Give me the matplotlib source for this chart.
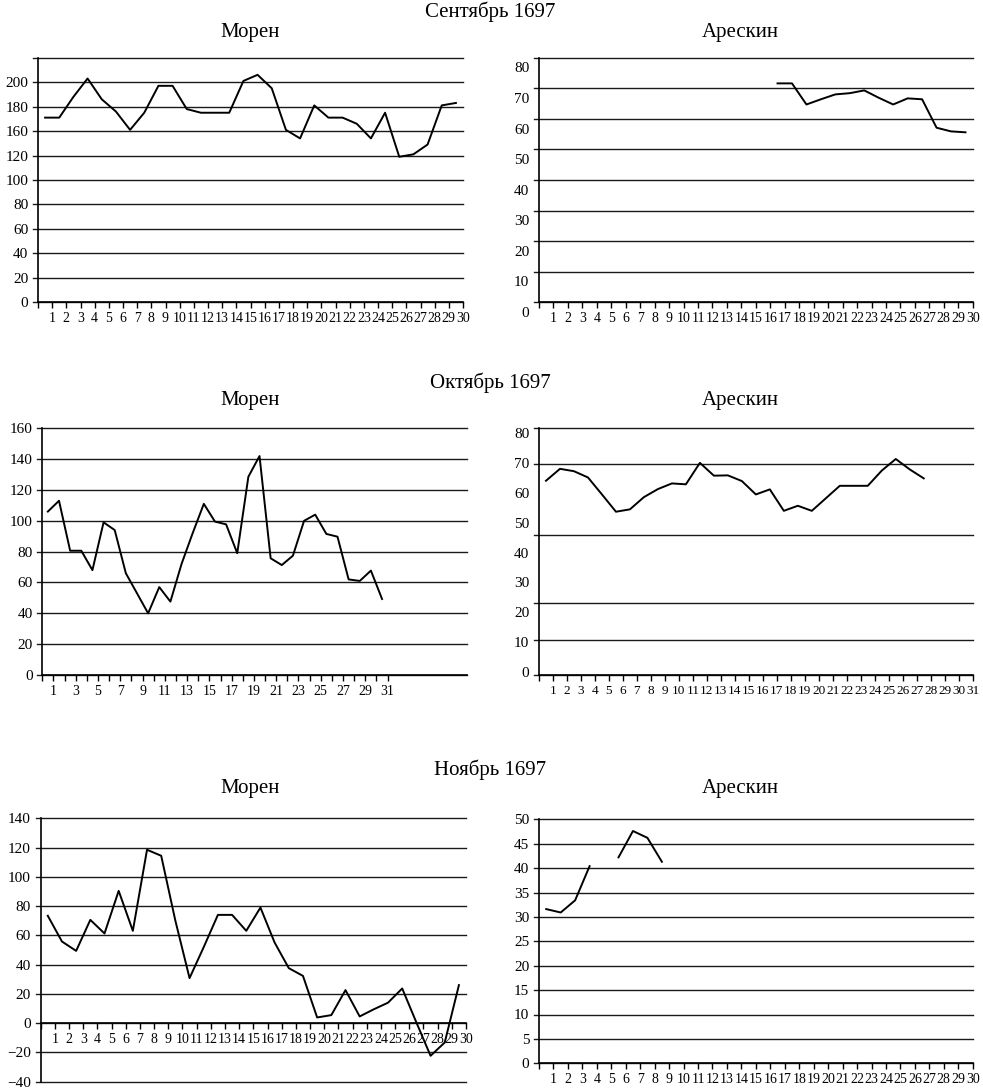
import numpy as np
import matplotlib
matplotlib.use('Agg')
import matplotlib.pyplot as plt
from matplotlib.transforms import ScaledTranslation

plt.rcParams['font.family'] = ['Liberation Serif', 'DejaVu Serif']
plt.rcParams['axes.unicode_minus'] = True

nan = np.nan

months = ['Сентябрь 1697', 'Октябрь 1697', 'Ноябрь 1697']
names = ['Морен', 'Арескин']

# September (30 days)
sep_moren = [151, 151, 168, 183, 166, 156, 141, 155, 177, 177,
             158, 155, 155, 155, 181, 186, 175, 141, 134, 161,
             151, 151, 146, 134, 155, 119, 121, 129, 161, 163]
sep_areskin = [nan] * 16 + [71.6, 71.6, 64.7, 66.4, 68.0, 68.4, 69.3,
                            66.9, 64.7, 66.7, 66.4, 57.1, 55.9, 55.6]
sep_moren_ylabels = ['0', '20', '40', '60', '80', '100', '120', '160', '180', '200', '']
sep_moren_grid = [0, 20, 40, 60, 80, 100, 120, 140, 160, 180, 200]
sep_areskin_ylabels = ['0', '10', '20', '30', '40', '50', '60', '70', '80']
sep_areskin_grid = [0, 10, 20, 30, 40, 50, 60, 70, 80]

# October (31 days)
oct_moren = [106, 113, 80.6, 80.6, 68, 99, 94, 66, 53, 40,
             57, 47.6, 72, 92, 111, 99.5, 97.7, 79, 128.6, 142,
             75.7, 71.3, 77.4, 100, 104, 91.5, 89.7, 62, 61, 67.7, 49.3]
oct_areskin = [64.1, 68.1, 67.3, 65.2, 59.5, 53.7, 54.5, 58.6, 61.3, 63.2,
               62.9, 70.1, 65.8, 65.9, 64.0, 59.5, 61.2, 54.0, 55.7, 54.0,
               58.2, 62.4, 62.4, 62.4, 67.5, 71.4, 67.9, 64.9, nan, nan, nan]
oct_moren_ylabels = ['0', '20', '40', '60', '80', '100', '120', '140', '160']
oct_moren_grid = [0, 20, 40, 60, 80, 100, 120, 140, 160]
oct_areskin_ylabels = ['0', '10', '20', '30', '40', '50', '60', '70', '80']
oct_areskin_grid = [-1.1, 10.6, 22.9, 45.9, 69.6, 81.7]

# November (30 days)
nov_moren = [73.4, 55.8, 49.4, 70.6, 61.3, 90.4, 63.1, 118.5, 114.4, 70,
             30.8, 52, 74, 74, 63.1, 79, 55.1, 37.6, 32.3, 3.9,
             5.5, 22.6, 4.6, 9.5, 14, 23.7, 0.5, -22.3, -13.2, 26]
nov_areskin = [31.6, 30.9, 33.4, 40.4, nan, 42.2, 47.6, 46.2, 41.3] + [nan] * 21
nov_moren_ylabels = ['−40', '−20', '0', '20', '40', '60', '80', '100', '120', '140']
nov_moren_grid = [-40, -20, 0, 20, 40, 60, 80, 100, 120, 140]
nov_areskin_ylabels = ['0', '5', '10', '15', '20', '25', '30', '35', '40', '45', '50']
nov_areskin_grid = [0, 5, 10, 15, 20, 25, 30, 35, 40, 45, 50]

W, H = 983, 1090
fig = plt.figure(figsize=(W / 100, H / 100), dpi=100)


def panel(box, values, ndays, xmax, grid, ylabels, ypos, ylim,
          odd_only=False, xaxis_at=None, xsize=10, yshift=0):
    left, top, right, bottom = box
    ax = fig.add_axes([left / W, 1 - bottom / H, (right - left) / W, (bottom - top) / H])
    days = np.arange(1, len(values) + 1)
    ax.plot(days - 0.5, values, color='black', lw=1.4, zorder=3)
    ax.set_xlim(0, xmax)
    ax.set_ylim(*ylim)
    for g in grid:
        ax.axhline(g, xmin=-0.012, xmax=1, color='#1a1a1a', lw=1.0,
                   clip_on=False, zorder=1)
    ax.set_yticks(ypos)
    ax.set_yticklabels(ylabels, fontsize=11)
    ax.tick_params(axis='y', length=0, pad=7)
    if yshift:
        off = ScaledTranslation(0, yshift / 72, fig.dpi_scale_trans)
        for lab in ax.get_yticklabels():
            lab.set_transform(lab.get_transform() + off)
    ticks = np.arange(0, ndays + 1)
    labels = [''] + [str(d) if (not odd_only or d % 2 == 1) else '' for d in range(1, ndays + 1)]
    ax.set_xticks(ticks)
    ax.set_xticklabels(labels, fontsize=xsize)
    ax.tick_params(axis='x', length=4, width=1, pad=3, direction='out')
    for s in ['top', 'right']:
        ax.spines[s].set_visible(False)
    ax.spines['left'].set_linewidth(1.2)
    ax.spines['bottom'].set_linewidth(1.2)
    if xaxis_at is not None:
        ax.spines['bottom'].set_position(('data', xaxis_at))
    ax.set_facecolor('none')
    return ax


# September
panel((38, 57.7, 463, 302.3), sep_moren, 30, 30, sep_moren_grid,
      sep_moren_ylabels, sep_moren_grid, (0, 200))
panel((539, 57.7, 972.7, 302.3), sep_areskin, 30, 30, sep_areskin_grid,
      sep_areskin_ylabels, sep_areskin_grid, (0, 80), yshift=-7)

# October
panel((42.3, 428.3, 466.7, 675), oct_moren, 31, 38.1, oct_moren_grid,
      oct_moren_ylabels, oct_moren_grid, (0, 160), odd_only=True)
panel((539, 428.3, 972.7, 675), oct_areskin, 31, 31, oct_areskin_grid,
      oct_areskin_ylabels, list(range(0, 81, 10)), (-1.1, 81.7), xsize=9.5)

# November
panel((40.7, 818.3, 466, 1081.7), nov_moren, 30, 30, nov_moren_grid,
      nov_moren_ylabels, nov_moren_grid, (-40, 140), xaxis_at=0)
panel((539, 819.3, 972.7, 1063.3), nov_areskin, 30, 30, nov_areskin_grid,
      nov_areskin_ylabels, nov_areskin_grid, (0, 50))

# titles
month_y = [12, 383, 770]
name_y = [32, 401, 788]
for m, my, ny in zip(months, month_y, name_y):
    fig.text(490 / W, 1 - my / H, m, ha='center', va='center', fontsize=15)
    fig.text(250 / W, 1 - ny / H, names[0], ha='center', va='center', fontsize=15)
    fig.text(740 / W, 1 - ny / H, names[1], ha='center', va='center', fontsize=15)

fig.savefig('out.png', dpi=100, facecolor='white')
